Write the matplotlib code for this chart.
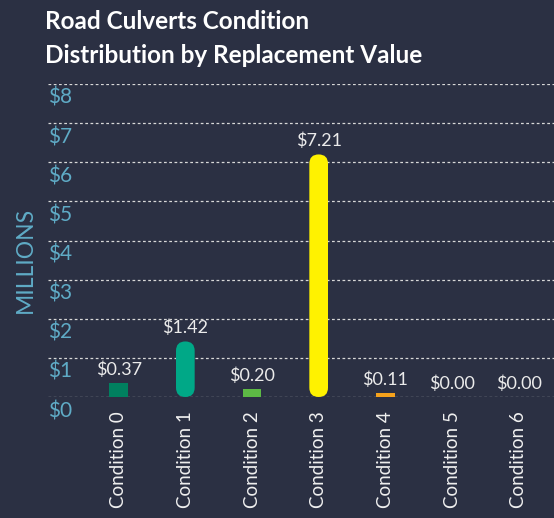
import matplotlib
matplotlib.use('Agg')
import matplotlib.pyplot as plt
from matplotlib.patches import FancyBboxPatch
import matplotlib.transforms as mtransforms

plt.rcParams['font.family'] = ['Lato', 'DejaVu Sans']

# data
categories = ['Condition 0', 'Condition 1', 'Condition 2', 'Condition 3',
              'Condition 4', 'Condition 5', 'Condition 6']
value_labels = ['$0.37', '$1.42', '$0.20', '$7.21', '$0.11', '$0.00', '$0.00']
bar_heights = [0.37, 1.42, 0.20, 6.2, 0.11, 0.0, 0.0]  # as drawn (millions)
bar_colors = ['#00805f', '#00a887', '#5dba45', '#fff200', '#f5a21c', '#f5a21c', '#f5a21c']
rounded = [False, True, False, True, False, False, False]
y_ticks = [0, 1, 2, 3, 4, 5, 6, 7, 8]
y_tick_labels = ['$' + str(t) for t in y_ticks]

bg = '#2b3043'
W, H = 554, 518
fig = plt.figure(figsize=(W / 100, H / 100), dpi=100, facecolor=bg)

# axes box in pixels: left 48, right 554, top 84 ($8), bottom 397 ($0)
ax = fig.add_axes([48 / W, 1 - 397 / H, (554 - 48) / W, (397 - 84) / H])
ax.set_facecolor(bg)
ax.set_ylim(0, 8)
ax.set_xlim(-1.06, 6.53)
for s in ax.spines.values():
    s.set_visible(False)

# dashed grid
for t in y_ticks:
    ax.axhline(t, color='#d8d8d8', lw=0.9, ls=(0, (2.2, 2.0)), zorder=1)

bar_w = 0.28
bars = ax.bar(range(len(categories)), bar_heights, width=bar_w, color=bar_colors, zorder=3)

# swap tall bars for rounded ones
px_x = 66.6  # pixels per category
px_y = 39.1  # pixels per million
for i, b in enumerate(bars):
    if rounded[i]:
        b.set_visible(False)
        r = bar_w / 2
        p = FancyBboxPatch((i - bar_w / 2, 0), bar_w, bar_heights[i],
                           boxstyle='round,pad=0,rounding_size=%f' % r,
                           mutation_aspect=px_x / px_y,
                           fc=bar_colors[i], ec='none', zorder=3)
        ax.add_patch(p)

# value labels above the bars
off = mtransforms.offset_copy(ax.transData, fig=fig, x=0, y=5, units='dots')
for i, lab in enumerate(value_labels):
    ax.text(i, bar_heights[i], lab, transform=off, ha='center', va='bottom',
            color='#ebebeb', fontsize=13, zorder=4)

# y labels sit just under their gridline, inside the plot
ax.set_yticks([])
yoff = mtransforms.offset_copy(ax.transData, fig=fig, x=0, y=-4, units='dots')
ytrans = mtransforms.blended_transform_factory(ax.transAxes, yoff)
for t, lab in zip(y_ticks, y_tick_labels):
    ax.text(0, t, lab, transform=ytrans, ha='left', va='top',
            color='#5fabc6', fontsize=15)

ax.set_xticks(range(len(categories)))
ax.set_xticklabels(categories, rotation=90, color='#f0f0f0', fontsize=13.5, va='top')
ax.tick_params(axis='x', length=0, pad=10)

fig.text(25 / W, 1 - 260 / H, 'MILLIONS', rotation=90, ha='center', va='center',
         color='#5fabc6', fontsize=16.5)

fig.text(45 / W, 1 - 29 / H, 'Road Culverts Condition', ha='left', va='baseline',
         color='white', fontsize=17.5, fontweight='bold')
fig.text(45 / W, 1 - 63 / H, 'Distribution by Replacement Value', ha='left', va='baseline',
         color='white', fontsize=17.5, fontweight='bold')

fig.savefig('out.png', dpi=100, facecolor=bg)
